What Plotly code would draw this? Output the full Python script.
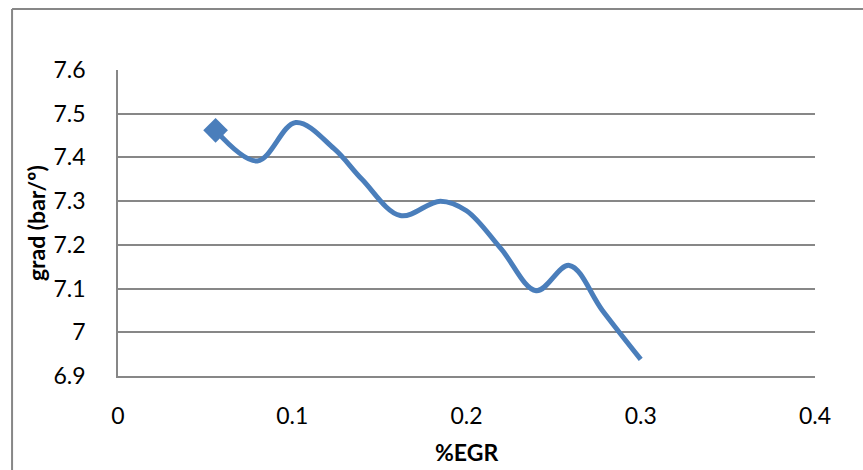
import plotly.graph_objects as go

# %EGR sweep and the pressure gradient measured at each setting
egr = [0.056, 0.080, 0.102, 0.124, 0.140, 0.162, 0.185, 0.200, 0.220, 0.240, 0.259, 0.278, 0.300]
grad = [7.462, 7.392, 7.480, 7.420, 7.350, 7.267, 7.300, 7.278, 7.190, 7.095, 7.153, 7.050, 6.938]

x_ticks = [0, 0.1, 0.2, 0.3, 0.4]
x_tick_text = ["0", "0.1", "0.2", "0.3", "0.4"]
y_ticks = [6.9, 7.0, 7.1, 7.2, 7.3, 7.4, 7.5, 7.6]
y_tick_text = ["6.9", "7", "7.1", "7.2", "7.3", "7.4", "7.5", "7.6"]

blue = "#4A7EBB"
grid = "#878787"
font_family = "Lato, 'Open Sans', sans-serif"

fig = go.Figure()

# smoothed curve through all measurements
fig.add_trace(go.Scatter(
    x=egr, y=grad, mode="lines",
    line=dict(color=blue, width=5, shape="spline", smoothing=1.0),
    hoverinfo="skip", showlegend=False,
))
# marker only on the first measurement
fig.add_trace(go.Scatter(
    x=egr[:1], y=grad[:1], mode="markers",
    marker=dict(symbol="diamond", size=19, color=blue),
    showlegend=False,
))

fig.update_layout(
    width=863, height=470,
    margin=dict(l=118, r=48, t=70, b=94),
    paper_bgcolor="white", plot_bgcolor="white",
    font=dict(family=font_family, size=23, color="#000000"),
    xaxis=dict(
        range=[0, 0.4], tickvals=x_ticks, ticktext=x_tick_text,
        showgrid=False, zeroline=False,
        showline=True, linecolor=grid, linewidth=1.5,
        ticks="outside", ticklen=19, tickcolor="rgba(0,0,0,0)",
        tickfont=dict(size=23),
    ),
    yaxis=dict(
        range=[6.9, 7.6], tickvals=y_ticks, ticktext=y_tick_text,
        showgrid=True, gridcolor=grid, gridwidth=1.5,
        zeroline=False,
        showline=True, linecolor=grid, linewidth=1.5,
        ticks="outside", ticklen=26, tickcolor="rgba(0,0,0,0)",
        tickfont=dict(size=23),
    ),
    annotations=[
        dict(text="<b>%EGR</b>", x=0.5, y=-0.248, xref="paper", yref="paper",
             showarrow=False, xanchor="center", yanchor="middle",
             font=dict(size=23)),
        dict(text="<b>grad (bar/º)</b>", x=-0.1175, y=0.5, xref="paper", yref="paper",
             showarrow=False, xanchor="center", yanchor="middle", textangle=-90,
             font=dict(size=23)),
    ],
    shapes=[
        # outer chart frame (left and top edges)
        dict(type="line", xref="paper", yref="paper",
             x0=-0.152, x1=-0.152, y0=1.199, y1=-0.4,
             line=dict(color=grid, width=2)),
        dict(type="line", xref="paper", yref="paper",
             x0=-0.152, x1=1.2, y0=1.199, y1=1.199,
             line=dict(color=grid, width=2)),
    ],
)

fig.write_html("out.html")
